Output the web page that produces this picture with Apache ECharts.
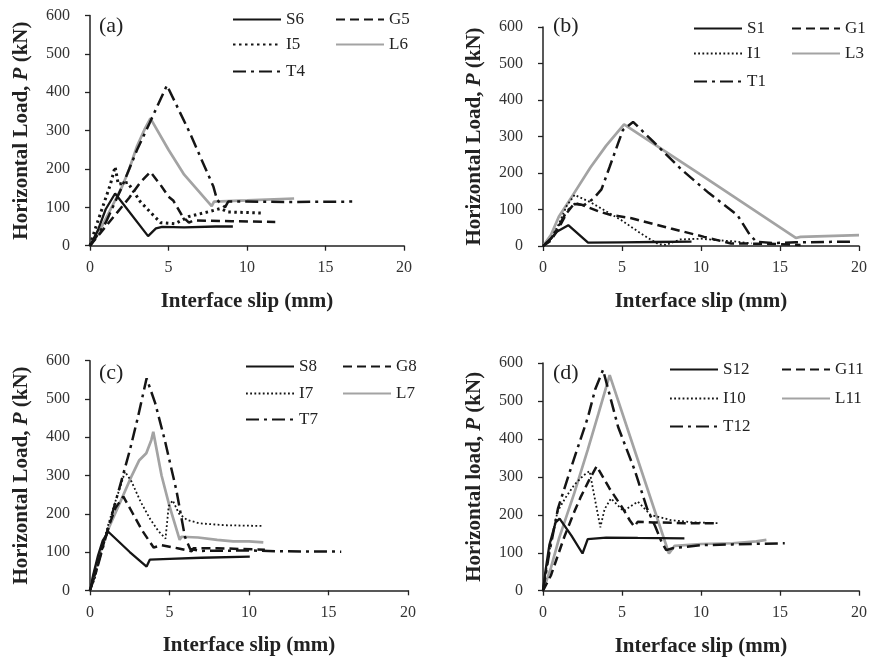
<!DOCTYPE html>
<html><head><meta charset="utf-8">
<script src="https://cdn.jsdelivr.net/npm/echarts@6/dist/echarts.min.js"></script>
<style>html,body{margin:0;padding:0;background:#fff}#c{width:872px;height:662px}</style>
</head><body><div id="c"></div>
<script>
// ---------- DATA (interface slip mm, horizontal load kN) ----------
const xTicks = [0, 5, 10, 15, 20];
const yTicks = [0, 100, 200, 300, 400, 500, 600];
const panelLabels = ['(a)', '(b)', '(c)', '(d)'];
const yTitles = ['Horizontal Load, ', 'Horizontal Load, ', 'Horizontal Load, ', 'Horizontal load, '];

// panel (a)
const a_S6 = [[0,0],[0.5,40],[1.0,95],[1.6,136],[3.7,25],[4.2,45],[4.6,49],[6,48],[8,50],[9.1,50]];
const a_G5 = [[0,0],[0.5,25],[1.0,50],[1.7,85],[2.5,125],[3.2,165],[3.85,192],[4.5,158],[5.0,128],[5.3,118],[5.9,76],[6.3,60],[6.6,66],[9,64],[11.8,62]];
const a_I5 = [[0,0],[0.3,40],[0.8,100],[1.3,160],[1.6,206],[1.8,160],[2.4,165],[3.2,115],[3.9,85],[4.5,60],[5.4,57],[6.3,76],[7.7,90],[8.3,97],[8.8,88],[11.1,85]];
const a_L6 = [[0,0],[0.5,30],[1.0,70],[1.5,110],[2.0,150],[2.5,200],[3.0,260],[3.5,305],[3.85,332],[5,250],[6,185],[7.75,103],[7.9,115],[10,118],[13,123]];
const a_T4 = [[0,0],[0.5,30],[1.0,60],[2.0,150],[3.0,250],[3.8,320],[4.9,418],[6.37,293],[7.86,154],[8.1,119],[8.6,100],[8.8,115],[10,115],[13,114],[16.7,115]];

// panel (b)
const b_S1 = [[0,0],[0.3,10],[0.9,40],[1.6,57],[2.85,9],[5,10],[7,11],[9.4,12]];
const b_G1 = [[0,0],[0.5,15],[1.0,50],[1.5,90],[2.0,118],[2.5,112],[3.5,95],[4.3,85],[5.6,76],[8.1,48],[10.2,25],[11.9,7],[14.2,6],[16.3,3]];
const b_I1 = [[0,0],[0.5,20],[1.0,60],[1.5,110],[2.0,140],[3,120],[4,95],[4.95,71],[6,40],[6.65,22],[7.3,5],[7.8,3],[8.7,18],[10,20],[11,16],[12,13],[13.2,7]];
const b_L3 = [[0,0],[0.5,30],[1.0,80],[1.9,140],[3.0,215],[4.0,275],[5.13,333],[10,195],[16,22],[16.3,25],[20,30]];
const b_T1 = [[0,0],[0.5,20],[1.0,55],[1.5,95],[2.0,115],[2.6,112],[3.2,130],[3.7,155],[4.22,217],[4.75,281],[5.06,318],[5.7,340],[7,285],[8.75,210],[10.5,145],[12.3,85],[13.1,30],[13.5,12],[14.5,8],[16,10],[19.5,12]];

// panel (c)
const c_S8 = [[0,0],[0.2,40],[0.5,90],[0.8,130],[1.15,153],[2.5,100],[3.56,62],[3.76,80],[5,82],[7,85],[10.05,88]];
const c_G8 = [[0,0],[0.3,40],[0.7,100],[1.2,170],[1.6,215],[2.1,245],[2.7,200],[3.3,155],[4.0,112],[4.5,118],[5.5,110],[6.4,102],[6.5,110],[8,110],[11,106]];
const c_I7 = [[0,0],[0.3,30],[0.7,100],[1.1,165],[1.5,220],[1.9,270],[2.2,310],[2.6,285],[3.2,230],[3.8,185],[4.3,155],[4.75,135],[4.95,220],[5.2,235],[5.6,200],[6.1,184],[6.9,175],[8.5,170],[10.9,168]];
const c_L7 = [[0,0],[0.3,50],[0.7,110],[1.2,165],[2.0,240],[2.6,297],[3.1,340],[3.54,358],[3.86,393],[3.98,414],[4.5,300],[5.0,220],[5.64,132],[5.75,140],[6.8,138],[8,132],[9,128],[10,128],[10.9,125]];
const c_T7 = [[0,0],[0.4,50],[1.0,140],[1.5,215],[2.0,290],[2.5,365],[3.0,450],[3.56,554],[4.1,489],[4.7,393],[5.43,262],[5.97,140],[6.3,108],[7,103],[10,104],[12,102],[15.8,101]];

// panel (d)
const d_S12 = [[0,0],[0.15,50],[0.4,120],[0.8,180],[1.05,190],[1.8,145],[2.5,98],[2.83,136],[4,140],[6,139],[8.95,138]];
const d_G11 = [[0,0],[0.5,40],[1.0,100],[1.35,142],[2.0,210],[2.4,248],[2.9,290],[3.4,328],[4.2,270],[5.0,220],[5.5,185],[5.78,169],[6.0,182],[7,180],[9,178],[11.1,178]];
const d_I10 = [[0,0],[0.3,80],[0.6,150],[0.93,210],[1.5,250],[2.0,280],[2.6,305],[2.95,315],[3.2,260],[3.63,167],[3.9,215],[4.3,243],[5.1,210],[6.0,235],[6.8,200],[8.1,186],[9.5,180],[11.1,178]];
const d_L11 = [[0,0],[0.5,60],[1.03,140],[1.98,257],[2.83,371],[3.5,465],[4.22,568],[6,345],[7.97,98],[8.33,118],[10,123],[12,125],[13.5,130],[14.14,134]];
const d_T12 = [[0,0],[0.4,100],[0.95,217],[1.8,327],[2.85,458],[3.3,530],[3.8,582],[4.75,432],[5.8,318],[6.6,215],[7.1,170],[7.5,129],[7.8,107],[8.2,112],[10,120],[12,122],[15.3,125]];

const panels = [
  [['S6', a_S6, 'S'], ['G5', a_G5, 'G'], ['I5', a_I5, 'I'], ['L6', a_L6, 'L'], ['T4', a_T4, 'T']],
  [['S1', b_S1, 'S'], ['G1', b_G1, 'G'], ['I1', b_I1, 'I'], ['L3', b_L3, 'L'], ['T1', b_T1, 'T']],
  [['S8', c_S8, 'S'], ['G8', c_G8, 'G'], ['I7', c_I7, 'I'], ['L7', c_L7, 'L'], ['T7', c_T7, 'T']],
  [['S12', d_S12, 'S'], ['G11', d_G11, 'G'], ['I10', d_I10, 'I'], ['L11', d_L11, 'L'], ['T12', d_T12, 'T']]
];

// ---------- LAYOUT / STYLE ----------
const FONT = '"Liberation Serif","DejaVu Serif",serif';
const grids = [
  {left: 90, top: 15.5, width: 314, height: 230.2},
  {left: 543, top: 27, width: 316, height: 219},
  {left: 90, top: 360.7, width: 318, height: 229.6},
  {left: 543, top: 363, width: 316, height: 227.7}
];
// legend item positions [left, centerY] in order S, G, I, L, T
const legendPos = [
  [[232,18],[335,18],[232,43],[335,43],[232,70]],
  [[693,27],[791,27],[693,52],[791,52],[693,80]],
  [[245,365],[342,365],[245,392],[342,392],[245,418]],
  [[669,368],[781,368],[669,397],[781,397],[669,425]]
];
const labelPos = [[99,15],[553,15],[99,362],[553,362]];

function styleFor(kind, p) {
  const black = '#151515';
  if (kind === 'S') return {color: black, width: 2.3, type: 'solid'};
  if (kind === 'G') return {color: black, width: 2.5, type: [9, 5]};
  if (kind === 'I') return p === 0 ? {color: black, width: 3, type: [2.5, 3.5]} : {color: black, width: 1.8, type: [1.8, 2.4]};
  if (kind === 'L') return {color: '#a3a3a3', width: 2.7, type: 'solid'};
  return {color: black, width: 2.5, type: [13, 5, 3, 5]};
}

const xAxes = [], yAxes = [], series = [], legends = [], graphics = [];
grids.forEach((g, p) => {
  xAxes.push({
    gridIndex: p, type: 'value', min: xTicks[0], max: xTicks[xTicks.length - 1], interval: 5,
    name: 'Interface slip (mm)', nameLocation: 'middle', nameGap: 45,
    nameTextStyle: {fontFamily: FONT, fontWeight: 'bold', fontSize: 21, color: '#222'},
    axisLine: {onZero: false, lineStyle: {color: '#222', width: 1.5}},
    axisTick: {show: true, length: 5, inside: false, lineStyle: {color: '#222', width: 1.3}},
    axisLabel: {fontFamily: FONT, fontSize: 16, color: '#333', margin: 14},
    splitLine: {show: false}
  });
  yAxes.push({
    gridIndex: p, type: 'value', min: yTicks[0], max: yTicks[yTicks.length - 1], interval: 100,
    name: '{n|' + yTitles[p] + '}{i|P}{n| (kN)}', nameLocation: 'middle', nameGap: 58, nameRotate: 90,
    nameTextStyle: {rich: {
      n: {fontFamily: FONT, fontWeight: 'bold', fontSize: 21, color: '#222'},
      i: {fontFamily: FONT, fontWeight: 'bold', fontStyle: 'italic', fontSize: 21, color: '#222'}
    }},
    axisLine: {show: true, onZero: false, lineStyle: {color: '#222', width: 1.5}},
    axisTick: {show: true, length: 5, inside: false, lineStyle: {color: '#222', width: 1.3}},
    axisLabel: {fontFamily: FONT, fontSize: 16, color: '#333', margin: 20},
    splitLine: {show: false}
  });
  panels[p].forEach(([name, data, kind], k) => {
    const ls = styleFor(kind, p);
    series.push({
      name: name, type: 'line', xAxisIndex: p, yAxisIndex: p, data: data,
      symbol: 'none', showSymbol: false, animation: false, z: kind === 'L' ? 2 : 3,
      lineStyle: {color: ls.color, width: ls.width, type: ls.type},
      itemStyle: {color: ls.color}
    });
    const [lx, ly] = legendPos[p][k];
    legends.push({
      show: true, data: [name], left: lx, top: ly - 7, padding: 0,
      itemWidth: 48, itemHeight: 18, itemGap: 0,
      selectedMode: false,
      itemStyle: {color: 'rgba(0,0,0,0)', borderColor: 'rgba(0,0,0,0)', borderWidth: 0, opacity: 0},
      textStyle: {fontFamily: FONT, fontSize: 17, color: '#222'}
    });
  });
  graphics.push({
    type: 'text', left: labelPos[p][0], top: labelPos[p][1],
    style: {text: panelLabels[p], font: '22px ' + FONT, fill: '#222'}
  });
});

const chart = echarts.init(document.getElementById('c'), null, {renderer: 'canvas'});
chart.setOption({
  backgroundColor: '#fff',
  animation: false,
  grid: grids,
  xAxis: xAxes,
  yAxis: yAxes,
  series: series,
  legend: legends,
  graphic: graphics
});
</script></body></html>
